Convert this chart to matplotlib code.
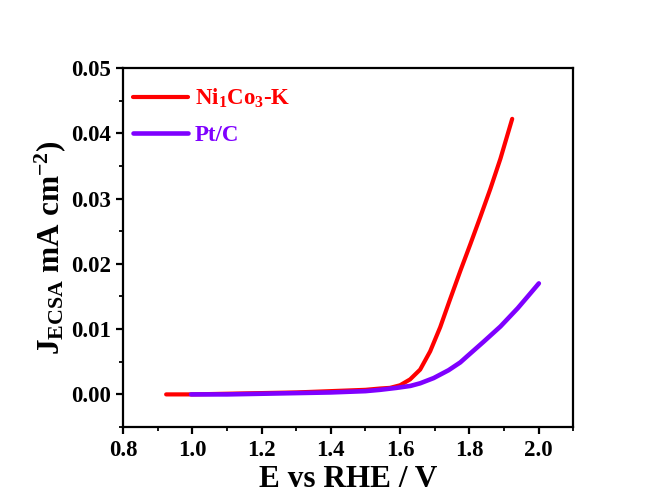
import matplotlib
matplotlib.use("Agg")
import matplotlib.pyplot as plt
from matplotlib.ticker import MultipleLocator, FormatStrFormatter

# Data
nico_E = [0.924, 1.00, 1.10, 1.20, 1.30, 1.40, 1.50, 1.542, 1.571, 1.600, 1.629, 1.658, 1.687,
          1.716, 1.742, 1.774, 1.803, 1.832, 1.861, 1.890, 1.924]
nico_J = [0.0000, 0.0000, 0.0001, 0.0002, 0.0003, 0.0005, 0.0007, 0.0009, 0.0010, 0.0014, 0.0023,
          0.0038, 0.0066, 0.0103, 0.0142, 0.0189, 0.0230, 0.0272, 0.0315, 0.0361, 0.0422]
ptc_E = [0.996, 1.10, 1.20, 1.30, 1.40, 1.50, 1.542, 1.590, 1.630, 1.658, 1.697, 1.740, 1.774,
         1.793, 1.840, 1.890, 1.940, 1.977, 2.001]
ptc_J = [0.0000, 0.0000, 0.0001, 0.0002, 0.0003, 0.0005, 0.0007, 0.0010, 0.0013, 0.0017, 0.0025,
         0.0037, 0.0049, 0.0058, 0.0080, 0.0104, 0.0132, 0.0155, 0.0170]

series_labels = [r"Ni$_{\mathrm{1}}$Co$_{\mathrm{3}}$-K", "Pt/C"]
series_colors = ["#ff0000", "#7f00ff"]

plt.rcParams["font.family"] = ["Liberation Serif", "DejaVu Serif"]
plt.rcParams["font.weight"] = "bold"
plt.rcParams["mathtext.fontset"] = "custom"
plt.rcParams["mathtext.rm"] = "Liberation Serif:bold"
plt.rcParams["mathtext.bf"] = "Liberation Serif:bold"
plt.rcParams["mathtext.it"] = "Liberation Serif:bold"

fig = plt.figure(figsize=(6.52, 5.03), dpi=100)
ax = fig.add_axes([0.189, 0.151, 0.690, 0.714])

ax.plot(nico_E, nico_J, color=series_colors[0], lw=3, label=series_labels[0],
        solid_capstyle="round", solid_joinstyle="round")
ax.plot(ptc_E, ptc_J, color=series_colors[1], lw=3.3, label=series_labels[1],
        solid_capstyle="round", solid_joinstyle="round")

ax.set_xlim(0.8, 2.1)
ax.set_ylim(-0.005, 0.05)
ax.xaxis.set_major_locator(MultipleLocator(0.2))
ax.xaxis.set_minor_locator(MultipleLocator(0.1))
ax.yaxis.set_major_locator(MultipleLocator(0.01))
ax.yaxis.set_minor_locator(MultipleLocator(0.005))
ax.xaxis.set_major_formatter(FormatStrFormatter("%.1f"))
ax.yaxis.set_major_formatter(FormatStrFormatter("%.2f"))

for s in ax.spines.values():
    s.set_linewidth(1.6)
ax.tick_params(which="major", direction="out", length=5, width=1.6, labelsize=16.5, pad=4)
ax.tick_params(which="minor", direction="out", length=3, width=1.3)
for lab in ax.get_xticklabels() + ax.get_yticklabels():
    lab.set_fontweight("bold")

ax.set_xlabel("E vs RHE / V", fontsize=22.5, fontweight="bold", labelpad=3)
ax.set_ylabel(r"$\mathrm{J_{ECSA}}$ mA cm$^{\mathrm{-2}}$)", fontsize=22.5, fontweight="bold", labelpad=2)

leg = ax.legend(loc="upper left", bbox_to_anchor=(0.002, 0.972), borderaxespad=0,
                frameon=False, handlelength=2.4, handletextpad=0.3, labelspacing=0.65,
                prop={"weight": "bold", "size": 16.5}, labelcolor="linecolor")

fig.savefig("out.png", dpi=100)
